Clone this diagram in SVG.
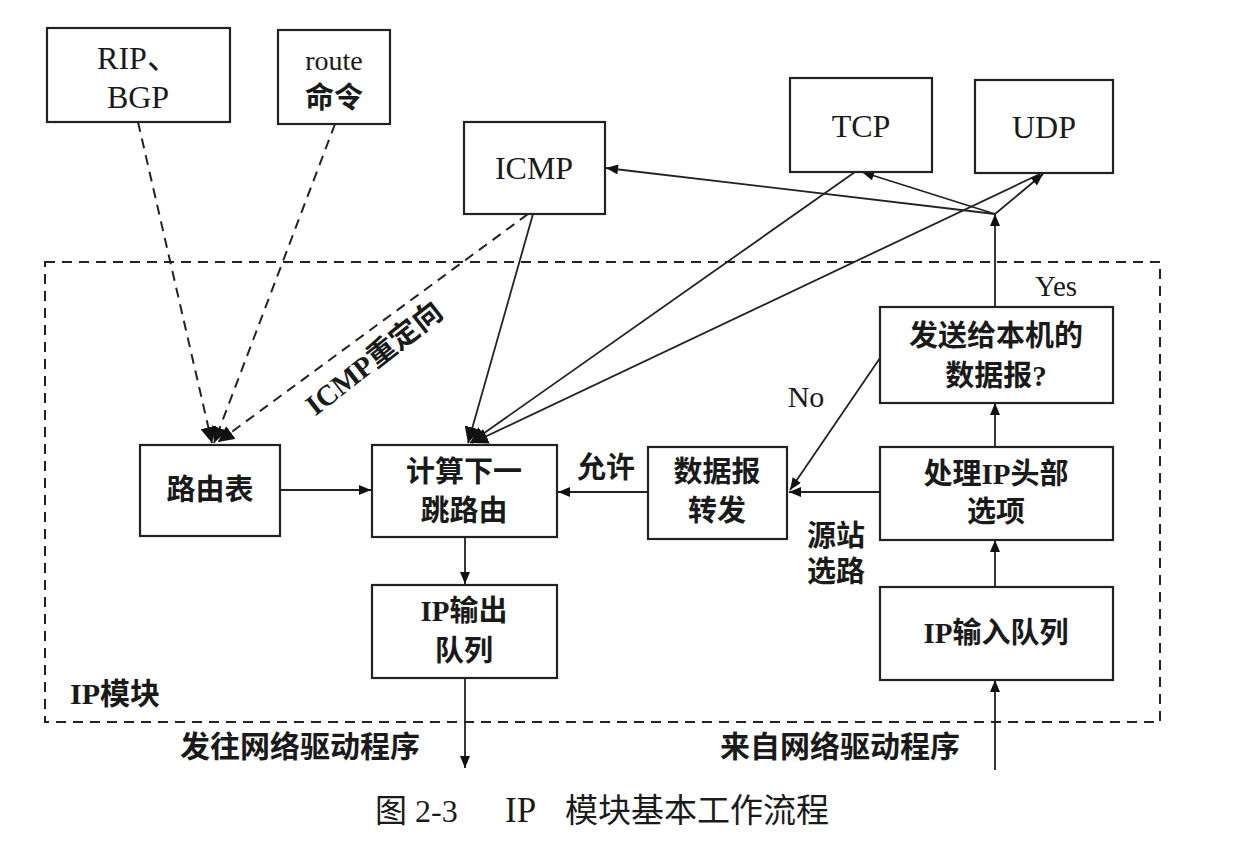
<svg xmlns="http://www.w3.org/2000/svg" width="1246" height="856" viewBox="0 0 1246 856">
<style>
.box{fill:#fff;stroke:#222;stroke-width:2.2}
.t{font-family:"Liberation Serif","Noto Sans CJK SC",serif;font-size:29px;fill:#1a1a1a;text-anchor:middle;font-weight:bold}
.tn{font-family:"Liberation Serif","Noto Sans CJK SC",serif;font-size:32px;fill:#1a1a1a;text-anchor:middle}
.ln{stroke:#222;stroke-width:1.8;fill:none}
.dash{stroke:#222;stroke-width:2;fill:none;stroke-dasharray:10 7}
</style>
<defs>
<marker id="a" viewBox="0 0 12 10" refX="12" refY="5" markerWidth="13" markerHeight="10" markerUnits="userSpaceOnUse" orient="auto"><path d="M0,0 L12,5 L0,10 Z" fill="#111"/></marker>
<marker id="ab" viewBox="0 0 12 12" refX="12" refY="6" markerWidth="16" markerHeight="16" markerUnits="userSpaceOnUse" orient="auto"><path d="M0,0 L12,6 L0,12 Z" fill="#111"/></marker>
</defs>
<rect width="1246" height="856" fill="#fff"/>
<rect id="ipmodule" x="45" y="262" width="1115" height="460" class="dash"/>
<g id="connectors">
<line class="dash" x1="138" y1="122" x2="212" y2="443" marker-end="url(#ab)"/>
<line class="dash" x1="335" y1="124" x2="214" y2="443" marker-end="url(#ab)"/>
<line class="dash" x1="528" y1="214" x2="218" y2="442" marker-end="url(#ab)"/>
<line class="ln" x1="533" y1="214" x2="468" y2="443" marker-end="url(#ab)"/>
<line class="ln" x1="855" y1="172" x2="470" y2="443" marker-end="url(#ab)"/>
<line class="ln" x1="1040" y1="174" x2="472" y2="443" marker-end="url(#ab)"/>
<line class="ln" x1="995" y1="307" x2="995" y2="214" marker-end="url(#a)"/>
<line class="ln" x1="995" y1="214" x2="606" y2="168" marker-end="url(#a)"/>
<line class="ln" x1="995" y1="214" x2="862" y2="172" marker-end="url(#a)"/>
<line class="ln" x1="995" y1="214" x2="1043" y2="174" marker-end="url(#a)"/>
<line class="ln" x1="995" y1="447" x2="995" y2="403" marker-end="url(#a)"/>
<line class="ln" x1="995" y1="587" x2="995" y2="540" marker-end="url(#a)"/>
<line class="ln" x1="995" y1="770" x2="995" y2="680" marker-end="url(#a)"/>
<line class="ln" x1="880" y1="358" x2="790" y2="490" marker-end="url(#a)"/>
<line class="ln" x1="880" y1="492" x2="789" y2="492" marker-end="url(#a)"/>
<line class="ln" x1="648" y1="492" x2="558" y2="492" marker-end="url(#a)"/>
<line class="ln" x1="280" y1="490" x2="371" y2="490" marker-end="url(#a)"/>
<line class="ln" x1="465" y1="537" x2="465" y2="584" marker-end="url(#a)"/>
<line class="ln" x1="465" y1="678" x2="465" y2="768" marker-end="url(#a)"/>
<text class="t" x="0" y="0" transform="translate(380,366) rotate(-38)">ICMP重定向</text>
<text class="tn" x="1056" y="296" style="font-size:29px">Yes</text>
<text class="tn" x="806" y="407" style="font-size:30px">No</text>
<text class="t" x="606" y="478">允许</text>
<text class="t" x="836" y="546">源站</text>
<text class="t" x="836" y="582">选路</text>
</g>
<g id="rip"><rect class="box" x="47" y="28" width="183" height="94"/><text class="tn" x="138" y="69">RIP、</text><text class="tn" x="138" y="108">BGP</text></g>
<g id="route"><rect class="box" x="278" y="30" width="112" height="94"/><text class="tn" x="334" y="70" style="font-size:28px">route</text><text class="t" x="334" y="108">命令</text></g>
<g id="icmp"><rect class="box" x="464" y="122" width="141" height="92"/><text class="tn" x="534" y="179">ICMP</text></g>
<g id="tcp"><rect class="box" x="790" y="78" width="142" height="94"/><text class="tn" x="861" y="137">TCP</text></g>
<g id="udp"><rect class="box" x="975" y="80" width="138" height="93"/><text class="tn" x="1044" y="138">UDP</text></g>
<g id="local"><rect class="box" x="880" y="307" width="233" height="96"/><text class="t" x="996" y="346">发送给本机的</text><text class="t" x="996" y="386">数据报?</text></g>
<g id="rtable"><rect class="box" x="140" y="445" width="140" height="91"/><text class="t" x="210" y="500">路由表</text></g>
<g id="nexthop"><rect class="box" x="372" y="445" width="185" height="92"/><text class="t" x="464" y="482">计算下一</text><text class="t" x="464" y="521">跳路由</text></g>
<g id="forward"><rect class="box" x="648" y="447" width="139" height="92"/><text class="t" x="717" y="482">数据报</text><text class="t" x="717" y="521">转发</text></g>
<g id="options"><rect class="box" x="880" y="447" width="233" height="93"/><text class="t" x="996" y="484">处理IP头部</text><text class="t" x="996" y="522">选项</text></g>
<g id="outq"><rect class="box" x="372" y="585" width="185" height="93"/><text class="t" x="464" y="621">IP输出</text><text class="t" x="464" y="661">队列</text></g>
<g id="inq"><rect class="box" x="880" y="587" width="233" height="93"/><text class="t" x="996" y="643">IP输入队列</text></g>
<text class="t" x="70" y="704" style="text-anchor:start;font-size:30px">IP模块</text>
<text class="t" x="180" y="757" style="text-anchor:start;font-size:30px">发往网络驱动程序</text>
<text class="t" x="720" y="757" style="text-anchor:start;font-size:30px">来自网络驱动程序</text>
<text class="tn" x="375" y="822" style="text-anchor:start;font-size:32px">图 2-3</text>
<text class="tn" x="505" y="822" style="text-anchor:start;font-size:35px">IP</text>
<text class="tn" x="565" y="822" style="text-anchor:start;font-size:33px">模块基本工作流程</text>
</svg>
